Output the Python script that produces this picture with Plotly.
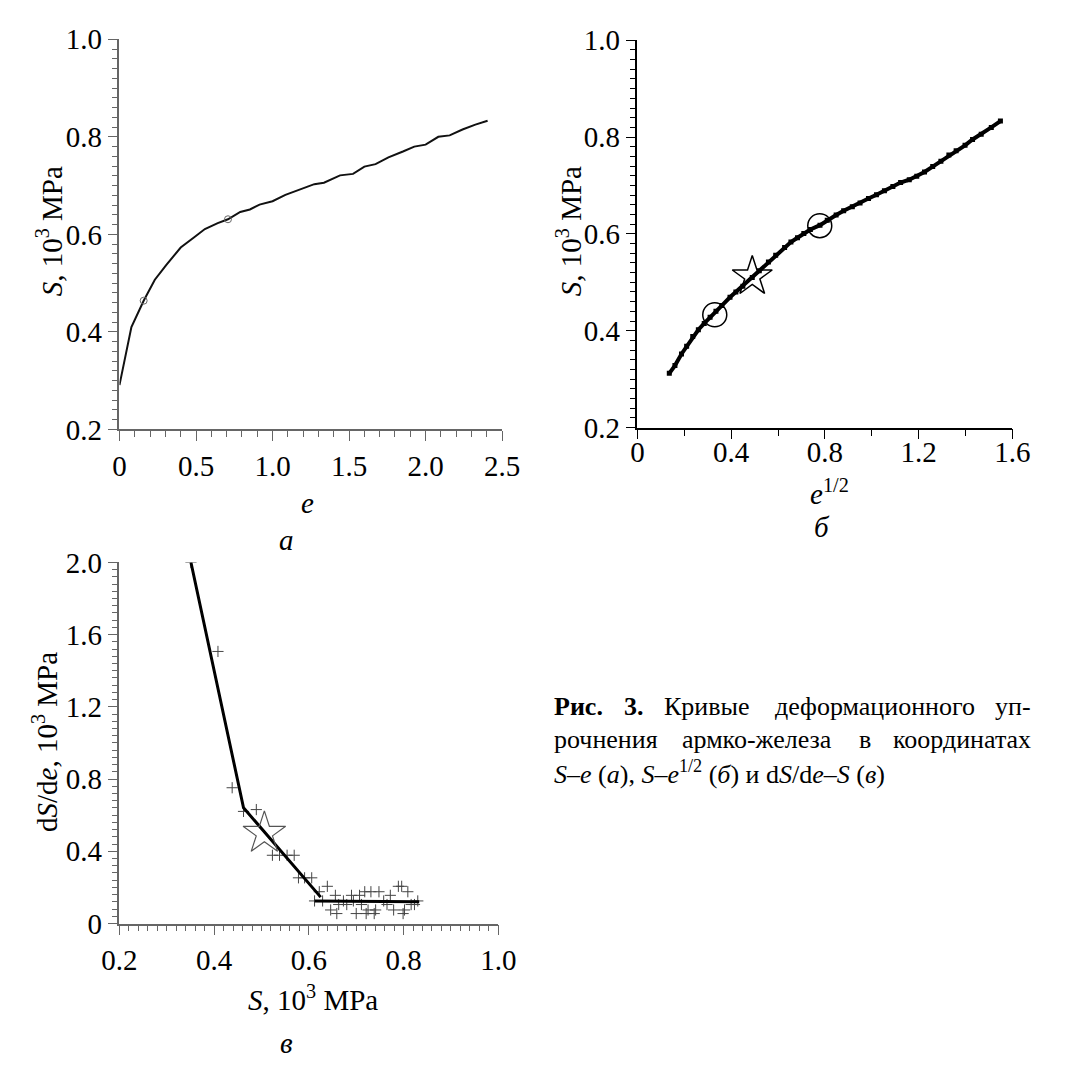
import plotly.graph_objects as go

W, H = 1070, 1088
FONT = "'Liberation Serif', 'Times New Roman', 'DejaVu Serif', serif"

# ---------- data: panel a (S vs e) ----------
e_a = [0.0, 0.032, 0.078, 0.158, 0.231, 0.305, 0.40, 0.484, 0.558, 0.642, 0.709, 0.789,
       0.852, 0.915, 1.0, 1.084, 1.168, 1.273, 1.336, 1.441, 1.526, 1.60, 1.673, 1.757,
       1.852, 1.926, 2.0, 2.083, 2.157, 2.241, 2.325, 2.405]
S_a = [0.291, 0.337, 0.410, 0.464, 0.507, 0.537, 0.573, 0.593, 0.611, 0.623, 0.631, 0.646,
       0.651, 0.661, 0.668, 0.681, 0.691, 0.703, 0.706, 0.721, 0.724, 0.739, 0.744, 0.758,
       0.770, 0.780, 0.784, 0.800, 0.803, 0.815, 0.825, 0.833]
e_a_mark = [0.158, 0.709]
S_a_mark = [0.464, 0.631]

# ---------- data: panel b (S vs e^1/2) ----------
sqrt_e = [0.136, 0.16, 0.188, 0.21, 0.236, 0.26, 0.285, 0.31, 0.335, 0.36, 0.395, 0.42, 0.45,
          0.49, 0.52, 0.559, 0.59, 0.628, 0.655, 0.683, 0.71, 0.738, 0.779, 0.81, 0.848, 0.88,
          0.917, 0.95, 0.986, 1.02, 1.054, 1.09, 1.123, 1.16, 1.192, 1.225, 1.26, 1.295, 1.329,
          1.36, 1.398, 1.43, 1.467, 1.51, 1.549]
S_b = [0.312, 0.328, 0.352, 0.368, 0.388, 0.402, 0.415, 0.428, 0.440, 0.452, 0.469, 0.480, 0.492,
       0.510, 0.524, 0.542, 0.556, 0.572, 0.583, 0.592, 0.601, 0.609, 0.618, 0.628, 0.639, 0.648,
       0.656, 0.664, 0.673, 0.681, 0.689, 0.698, 0.706, 0.712, 0.719, 0.728, 0.739, 0.750, 0.763,
       0.772, 0.783, 0.795, 0.806, 0.820, 0.833]
circ_b_x = [0.33, 0.778]
circ_b_y = [0.433, 0.617]
star_b_x = [0.49]
star_b_y = [0.512]

# ---------- data: panel v (dS/de vs S) ----------
S_v = [0.351, 0.408, 0.438, 0.462, 0.489, 0.523, 0.538, 0.554, 0.569, 0.578, 0.591, 0.606,
       0.622, 0.612, 0.629, 0.639, 0.646, 0.656, 0.659, 0.663, 0.673, 0.680, 0.690, 0.694,
       0.700, 0.707, 0.711, 0.718, 0.721, 0.725, 0.731, 0.738, 0.741, 0.748, 0.758, 0.765,
       0.772, 0.779, 0.789, 0.796, 0.799, 0.802, 0.809, 0.816, 0.823, 0.830]
dSde_v = [2.0, 1.507, 0.752, 0.621, 0.631, 0.378, 0.378, 0.378, 0.378, 0.253, 0.253, 0.253,
          0.176, 0.125, 0.125, 0.206, 0.075, 0.156, 0.055, 0.105, 0.125, 0.105, 0.156, 0.125,
          0.055, 0.156, 0.105, 0.176, 0.055, 0.075, 0.176, 0.055, 0.075, 0.176, 0.125, 0.105,
          0.156, 0.075, 0.206, 0.206, 0.055, 0.075, 0.176, 0.105, 0.105, 0.125]
fit1_S = [0.351, 0.462, 0.625]
fit1_v = [2.0, 0.641, 0.146]
fit2_S = [0.612, 0.833]
fit2_v = [0.125, 0.120]
star_v_x = [0.506]
star_v_y = [0.50]

# ---------- tick labels ----------
a_xvals = [0, 0.5, 1.0, 1.5, 2.0, 2.5]
a_xtext = ["0", "0.5", "1.0", "1.5", "2.0", "2.5"]
S_vals = [0.2, 0.4, 0.6, 0.8, 1.0]
S_text = ["0.2", "0.4", "0.6", "0.8", "1.0"]
b_xvals = [0, 0.4, 0.8, 1.2, 1.6]
b_xtext = ["0", "0.4", "0.8", "1.2", "1.6"]
v_xvals = [0.2, 0.4, 0.6, 0.8, 1.0]
v_xtext = ["0.2", "0.4", "0.6", "0.8", "1.0"]
v_yvals = [0, 0.4, 0.8, 1.2, 1.6, 2.0]
v_ytext = ["0", "0.4", "0.8", "1.2", "1.6", "2.0"]


def pxx(x):
    return x / W


def pxy(y):
    return 1 - y / H


fig = go.Figure()

# panel a
fig.add_trace(go.Scatter(x=e_a, y=S_a, mode="lines", line=dict(color="#111", width=2),
                         xaxis="x", yaxis="y", showlegend=False))
fig.add_trace(go.Scatter(x=e_a_mark, y=S_a_mark, mode="markers",
                         marker=dict(symbol="circle-open", size=7, color="#666", line=dict(width=1)),
                         xaxis="x", yaxis="y", showlegend=False))
# panel b
fig.add_trace(go.Scatter(x=sqrt_e, y=S_b, mode="lines+markers", line=dict(color="#000", width=4),
                         marker=dict(symbol="square", size=5, color="#000"),
                         xaxis="x2", yaxis="y2", showlegend=False))
fig.add_trace(go.Scatter(x=circ_b_x, y=circ_b_y, mode="markers",
                         marker=dict(symbol="circle-open", size=24, color="#000", line=dict(width=1.5)),
                         xaxis="x2", yaxis="y2", showlegend=False))
fig.add_trace(go.Scatter(x=star_b_x, y=star_b_y, mode="markers",
                         marker=dict(symbol="star-open", size=30, color="#000", line=dict(width=1.5)),
                         xaxis="x2", yaxis="y2", showlegend=False))
# panel v
fig.add_trace(go.Scatter(x=S_v, y=dSde_v, mode="markers",
                         marker=dict(symbol="cross-thin", size=8, color="#444", line=dict(width=1, color="#444")),
                         xaxis="x3", yaxis="y3", showlegend=False))
fig.add_trace(go.Scatter(x=fit1_S, y=fit1_v, mode="lines", line=dict(color="#000", width=3),
                         xaxis="x3", yaxis="y3", showlegend=False))
fig.add_trace(go.Scatter(x=fit2_S, y=fit2_v, mode="lines", line=dict(color="#000", width=3),
                         xaxis="x3", yaxis="y3", showlegend=False))
fig.add_trace(go.Scatter(x=star_v_x, y=star_v_y, mode="markers",
                         marker=dict(symbol="star-open", size=32, color="#555", line=dict(width=1.2)),
                         xaxis="x3", yaxis="y3", showlegend=False))

tickfont = dict(family=FONT, size=29, color="#000")


def axis(domain, rng, vals, text, minor_dtick, color, anchor, ticklen=10, minorlen=6, standoff=0):
    return dict(domain=domain, range=rng, tickvals=vals, ticktext=text, tickfont=tickfont,
                showline=True, linecolor=color, linewidth=1.5, ticks="outside", ticklen=ticklen,
                tickcolor=color, tickwidth=1.2, showgrid=False, zeroline=False, anchor=anchor,
                ticklabelstandoff=standoff,
                minor=dict(ticks="outside", ticklen=minorlen, dtick=minor_dtick, tickcolor=color,
                           tickwidth=1, showgrid=False),
                fixedrange=True)


GA = "#666"
GV = "#666"
fig.update_layout(
    width=W, height=H, margin=dict(l=0, r=0, t=0, b=0),
    paper_bgcolor="white", plot_bgcolor="white",
    xaxis=axis([pxx(105), pxx(501)], [0, 2.5], a_xvals, a_xtext, 0.1, GA, "y"),
    yaxis=axis([pxy(426), pxy(24)], [0.2, 1.0], S_vals, S_text, 0.02, GA, "x"),
    xaxis2=axis([pxx(641), pxx(1029)], [0, 1.6], b_xvals, b_xtext, 0.2, "#000", "y2",
                ticklen=10, minorlen=7, standoff=-12),
    yaxis2=axis([pxy(424), pxy(25)], [0.2, 1.0], S_vals, S_text, 0.02, "#000", "x2"),
    xaxis3=axis([pxx(105), pxx(497)], [0.2, 1.0], v_xvals, v_xtext, 0.02, GV, "y3"),
    yaxis3=axis([pxy(935), pxy(563)], [0, 2.0], v_yvals, v_ytext, 0.04, GV, "x3"),
)

anns = []


def txt(x, y, s, size=29, angle=0, xanchor="center"):
    anns.append(dict(x=pxx(x), y=pxy(y), xref="paper", yref="paper", text=s, showarrow=False,
                     textangle=angle, xanchor=xanchor, yanchor="middle",
                     font=dict(family=FONT, size=size, color="#000")))


# axis titles and panel letters
txt(33, 222, "<i>S</i>, 10<sup>3</sup> MPa", angle=-90)
txt(300, 502, "<i>e</i>")
txt(278, 540, "<i>а</i>")
txt(571, 222, "<i>S</i>, 10<sup>3</sup> MPa", angle=-90)
txt(840, 490, "<i>e</i><sup>1/2</sup>")
txt(832, 526, "<i>б</i>")
txt(28, 748, "d<i>S</i>/d<i>e</i>, 10<sup>3</sup> MPa", angle=-90)
txt(305, 1012, "<i>S</i>, 10<sup>3</sup> MPa")
txt(278, 1058, "<i>в</i>")

# caption, justified by placing the words of the first two lines
CS = 26
line1 = [(553, "<b>Рис.</b>", "left"), (625, "<b>3.</b>", "left"), (666, "Кривые", "left"),
         (781, "деформационного", "left"), (1050, "уп-", "right")]
line2 = [(553, "рочнения", "left"), (685, "армко-железа", "left"), (868, "в", "left"),
         (1050, "координатах", "right")]
for x, w, anc in line1:
    txt(x, 711, w, size=CS, xanchor=anc)
for x, w, anc in line2:
    txt(x, 745, w, size=CS, xanchor=anc)
txt(553, 779, "<i>S</i>–<i>e</i> (<i>а</i>), <i>S</i>–<i>e</i><sup>1/2</sup> (<i>б</i>) и d<i>S</i>/d<i>e</i>–<i>S</i> (<i>в</i>)",
    size=CS, xanchor="left")

fig.update_layout(annotations=anns)

fig.write_html("out.html", config={"displayModeBar": False},
               post_script="document.body.style.margin='0';")
